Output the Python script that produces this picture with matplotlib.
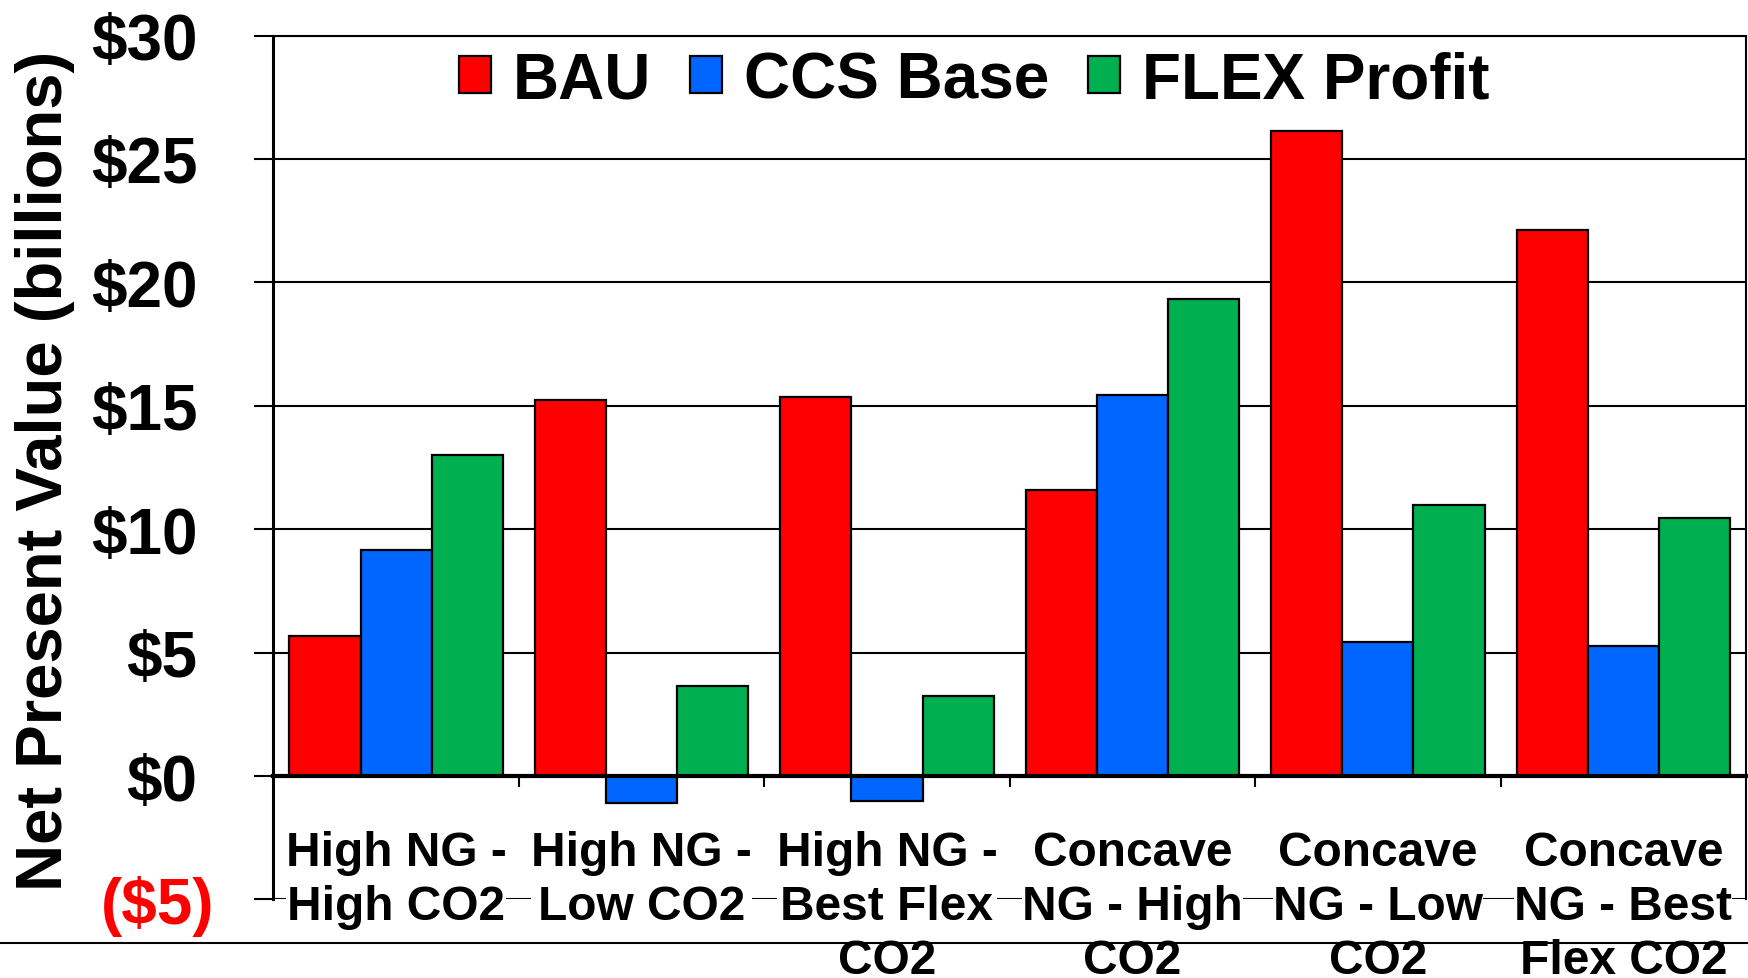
import matplotlib
matplotlib.use("Agg")
import matplotlib.pyplot as plt
from matplotlib.lines import Line2D
import matplotlib.transforms as mtransforms
import numpy as np

plt.rcParams['font.family'] = ['Liberation Sans', 'DejaVu Sans']
plt.rcParams['font.weight'] = 'bold'

categories = ["High NG -\nHigh CO2", "High NG -\nLow CO2", "High NG -\nBest Flex\nCO2",
              "Concave\nNG - High\nCO2", "Concave\nNG - Low\nCO2", "Concave\nNG - Best\nFlex CO2"]
series_names = ["BAU", "CCS Base", "FLEX Profit"]
bau = [5.67, 15.25, 15.34, 11.59, 26.12, 22.12]
ccs_base = [9.15, -1.11, -1.02, 15.43, 5.44, 5.26]
flex_profit = [12.99, 3.63, 3.23, 19.31, 11.0, 10.46]
colors = ["#FF0000", "#0066FF", "#00B050"]
yticks = [-5, 0, 5, 10, 15, 20, 25, 30]
ytick_labels = ["($5)", "$0", "$5", "$10", "$15", "$20", "$25", "$30"]

fig = plt.figure(figsize=(17.49, 9.79), dpi=100)
ax = fig.add_axes([0.1563, 0.0802, 0.9983 - 0.1563, 0.9627 - 0.0802])

x = np.arange(len(categories))
w = 0.29
series = [bau, ccs_base, flex_profit]
handles = []
for i, (vals, c, name) in enumerate(zip(series, colors, series_names)):
    b = ax.bar(x + (i - 1) * w, vals, width=w, color=c, edgecolor='black', linewidth=1.6,
               label=name, zorder=2)
    handles.append(b)

ax.set_xlim(-0.5, len(categories) - 0.5)
ax.set_ylim(-5, 30)
ax.set_yticks(yticks)
ax.set_yticklabels(ytick_labels, fontsize=46, fontweight='bold')
ax.tick_params(axis='y', direction='out', length=13.7, width=1.5, pad=41)
for lbl in ax.get_yticklabels():
    if lbl.get_text().startswith('('):
        lbl.set_color('#FF0000')
        lbl.set_transform(lbl.get_transform() +
                          mtransforms.ScaledTranslation(17 / 100, 0, fig.dpi_scale_trans))
ax.yaxis.grid(True, color='black', linewidth=1.5)
ax.set_axisbelow(True)

# x axis at zero
ax.spines['bottom'].set_position(('data', 0))
ax.spines['bottom'].set_linewidth(3)
ax.spines['left'].set_linewidth(2.2)
ax.spines['right'].set_linewidth(1.5)
ax.spines['top'].set_linewidth(1.5)
ax.set_xticks(x)
ax.set_xticklabels([])
ax.set_xticks(x[:-1] + 0.5, minor=True)
ax.tick_params(axis='x', which='major', length=0)
ax.tick_params(axis='x', which='minor', direction='out', length=8, width=1.5)

for xi, lab in zip(x, categories):
    ax.annotate(lab, xy=(xi, 0), xycoords='data', xytext=(0, -38.5), textcoords='offset points',
                ha='center', va='top', fontsize=34.5, fontweight='bold', linespacing=1.27,
                bbox=dict(facecolor='white', edgecolor='none', pad=0), zorder=6,
                annotation_clip=False)

fig.text(45 / 1749, 0.519, "Net Present Value (billions)", rotation=90, ha='center',
         va='center', fontsize=47, fontweight='bold')

fig.legend(handles=handles, labels=series_names, loc='center', bbox_to_anchor=(0.557, 0.917),
           ncol=3, frameon=False, prop={'size': 46, 'weight': 'bold'},
           handlelength=0.5, handleheight=0.5, handletextpad=0.35, columnspacing=0.6)

fig.add_artist(Line2D([0, 1], [0.0358, 0.0358], transform=fig.transFigure, color='black', lw=1.5))

fig.savefig("out.png", dpi=100)
